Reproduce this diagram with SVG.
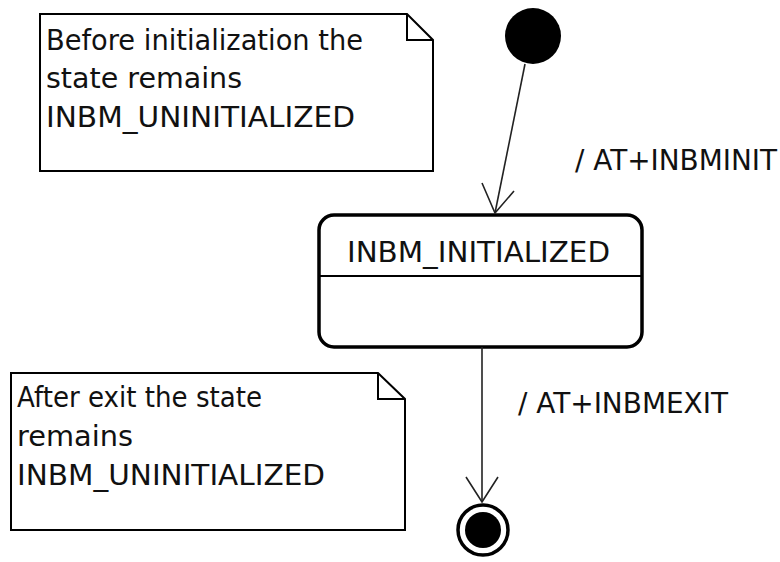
<svg xmlns="http://www.w3.org/2000/svg" width="780" height="562" viewBox="0 0 780 562">
  <style>
    .note { fill: #ffffff; stroke: #000000; stroke-width: 2; stroke-linejoin: miter; }
    .fold { fill: none; stroke: #000000; stroke-width: 2; }
    .txt { font-family: "DejaVu Sans", "Liberation Sans", sans-serif; font-size: 28px; fill: #111111; }
    .state { fill: #ffffff; stroke: #000000; stroke-width: 3.5; }
    .edge { fill: none; stroke: #222222; stroke-width: 1.6; }
  </style>
  <rect width="780" height="562" fill="#ffffff"/>

  <!-- note: before initialization -->
  <g id="note-before">
    <path class="note" d="M40,14 H407 L433,40 V171 H40 Z"/>
    <path class="fold" d="M407,14 V40 H433"/>
    <text class="txt" x="46" y="50" textLength="317" lengthAdjust="spacingAndGlyphs">Before initialization the</text>
    <text class="txt" x="46" y="88" textLength="196" lengthAdjust="spacingAndGlyphs">state remains</text>
    <text class="txt" x="46" y="127" textLength="309" lengthAdjust="spacingAndGlyphs">INBM_UNINITIALIZED</text>
  </g>

  <!-- initial pseudo-state -->
  <g id="initial">
    <circle cx="533" cy="36" r="28" fill="#000000"/>
  </g>

  <!-- state INBM_INITIALIZED -->
  <g id="state-initialized">
    <rect class="state" x="319" y="215" width="323" height="132" rx="15" ry="15"/>
    <line x1="319" y1="276" x2="642" y2="276" stroke="#000000" stroke-width="2"/>
    <text class="txt" x="347" y="262" textLength="263" lengthAdjust="spacingAndGlyphs">INBM_INITIALIZED</text>
  </g>

  <!-- note: after exit -->
  <g id="note-after">
    <path class="note" d="M11,373 H378 L405,399 V530 H11 Z"/>
    <path class="fold" d="M378,373 V399 H405"/>
    <text class="txt" x="17" y="407" textLength="245" lengthAdjust="spacingAndGlyphs">After exit the state</text>
    <text class="txt" x="17" y="446" textLength="116" lengthAdjust="spacingAndGlyphs">remains</text>
    <text class="txt" x="17" y="485" textLength="308" lengthAdjust="spacingAndGlyphs">INBM_UNINITIALIZED</text>
  </g>

  <!-- final state -->
  <g id="final">
    <circle cx="483" cy="530" r="25" fill="#ffffff" stroke="#000000" stroke-width="3.5"/>
    <circle cx="483" cy="530" r="18" fill="#000000"/>
  </g>

  <!-- transitions -->
  <g id="connectors">
    <g id="edge-init">
      <path class="edge" d="M525,64 L495,213"/>
      <path class="edge" d="M482,183 L495,213 L514,191"/>
      <text class="txt" x="575" y="170" textLength="202" lengthAdjust="spacingAndGlyphs">/ AT+INBMINIT</text>
    </g>
    <g id="edge-exit">
      <path class="edge" d="M482,347 L482,502"/>
      <path class="edge" d="M466,477 L482,502 L498,477"/>
      <text class="txt" x="518" y="413" textLength="210" lengthAdjust="spacingAndGlyphs">/ AT+INBMEXIT</text>
    </g>
  </g>
</svg>
